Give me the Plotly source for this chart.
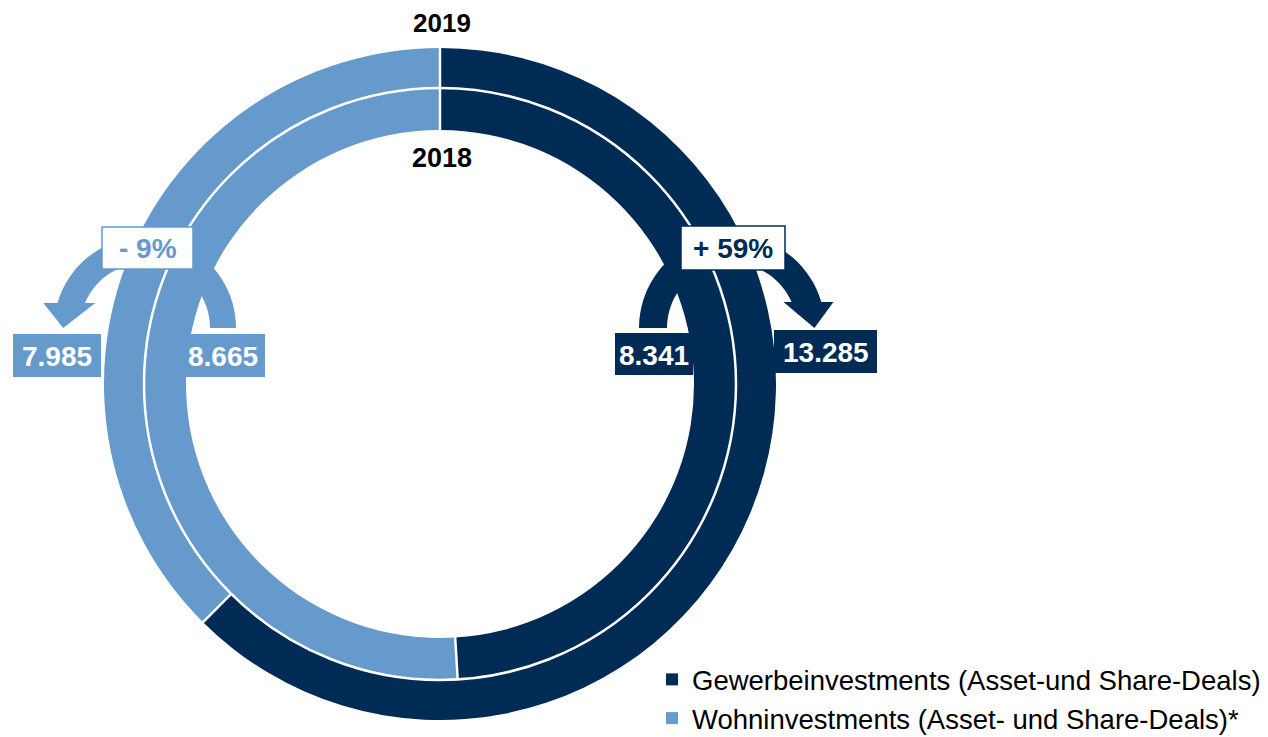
import math
import plotly.graph_objects as go

# ---------------- data ----------------
categories = ["Gewerbeinvestments (Asset-und Share-Deals)",
              "Wohninvestments (Asset- und Share-Deals)*"]
values_2019 = [13285, 7985]
values_2018 = [8341, 8665]
years = ["2019", "2018"]
change_labels = ["+ 59%", "- 9%"]

# ---------------- style ----------------
NAVY = "#002B55"
LIGHT = "#6699CC"
colors = [NAVY, LIGHT]
FONT = "Liberation Sans, Arial, sans-serif"

W, H = 1268, 737
OFF = 8  # default page body margin of the html page
CX, CY = 440, 384
R_OUT, R_MID, R_IN = 336, 296, 254


def px(x):
    return (x - OFF) / W


def py(y):
    return 1 - (y - OFF) / H


def fmt_de(v):
    return f"{v:,}".replace(",", ".")


fig = go.Figure()

fig.add_trace(go.Pie(
    labels=categories, values=values_2019, name=years[0],
    sort=False, direction="clockwise", rotation=0,
    hole=R_MID / R_OUT, textinfo="none", hoverinfo="label+value",
    marker=dict(colors=colors, line=dict(width=0)),
    domain=dict(x=[px(CX - R_OUT), px(CX + R_OUT)],
                y=[py(CY + R_OUT), py(CY - R_OUT)]),
    showlegend=True,
))
fig.add_trace(go.Pie(
    labels=categories, values=values_2018, name=years[1],
    sort=False, direction="clockwise", rotation=0,
    hole=R_IN / R_MID, textinfo="none", hoverinfo="label+value",
    marker=dict(colors=colors, line=dict(width=0)),
    domain=dict(x=[px(CX - R_MID), px(CX + R_MID)],
                y=[py(CY + R_MID), py(CY - R_MID)]),
    showlegend=False,
))

shapes = []


def arrow_path(cx, cy, r_out, r_in, s, base_y, head_half, tip_y, n=40):
    d = cy - base_y
    th_out = math.pi - math.asin(d / r_out)
    th_in = math.pi - math.asin(d / r_in)
    pts = []
    for i in range(n + 1):
        t = th_out * i / n
        pts.append((cx + s * r_out * math.cos(t), cy - r_out * math.sin(t)))
    x_o = cx - s * math.sqrt(r_out ** 2 - d ** 2)
    x_i = cx - s * math.sqrt(r_in ** 2 - d ** 2)
    hc = (x_o + x_i) / 2 - s * 2
    pts.append((hc - s * head_half, base_y))
    pts.append((hc - s * 6, tip_y))
    pts.append((hc + s * head_half, base_y))
    for i in range(n, -1, -1):
        t = th_in * i / n
        pts.append((cx + s * r_in * math.cos(t), cy - r_in * math.sin(t)))
    path = "M" + " L".join(f"{px(x):.5f},{py(y):.5f}" for x, y in pts) + " Z"
    return path


# arrows (left: Wohn, right: Gewerbe)
shapes.append(dict(type="path", xref="paper", yref="paper", layer="above",
                   path=arrow_path(145, 328, 91, 65, 1, 303, 26, 328),
                   fillcolor=LIGHT, line=dict(width=0)))
shapes.append(dict(type="path", xref="paper", yref="paper", layer="above",
                   path=arrow_path(732, 328, 93, 65, -1, 302, 25, 328),
                   fillcolor=NAVY, line=dict(width=0)))

# white separators
shapes.append(dict(type="circle", xref="paper", yref="paper", layer="above",
                   x0=px(CX - R_MID), x1=px(CX + R_MID),
                   y0=py(CY + R_MID), y1=py(CY - R_MID),
                   line=dict(color="white", width=2.5)))


def radial(a_deg, r0, r1):
    a = math.radians(a_deg)
    return dict(type="line", xref="paper", yref="paper", layer="above",
                x0=px(CX + r0 * math.sin(a)), y0=py(CY - r0 * math.cos(a)),
                x1=px(CX + r1 * math.sin(a)), y1=py(CY - r1 * math.cos(a)),
                line=dict(color="white", width=2.5))


a_out = 360 * values_2019[0] / sum(values_2019)
a_in = 360 * values_2018[0] / sum(values_2018)
shapes.append(radial(0, R_IN - 1, R_OUT + 1))
shapes.append(radial(a_out, R_MID, R_OUT + 1))
shapes.append(radial(a_in, R_IN - 1, R_MID))

annotations = []


def box(x0, y0, x1, y1, fill, border=None):
    shapes.append(dict(type="rect", xref="paper", yref="paper", layer="above",
                       x0=px(x0), x1=px(x1), y0=py(y1), y1=py(y0),
                       fillcolor=fill,
                       line=dict(color=border or fill, width=1.5 if border else 0)))


def text(x, y, t, color, size=28, height=None):
    a = dict(xref="paper", yref="paper", x=px(x), y=py(y),
             text=f"<b>{t}</b>", showarrow=False,
             xanchor="center", yanchor="middle",
             font=dict(family=FONT, size=size, color=color))
    if height:
        a["height"] = height
    annotations.append(a)


# value boxes
box(13, 334, 101, 377, LIGHT)
text(57, 357, fmt_de(values_2019[1]), "white")
box(180, 334, 265, 377, LIGHT)
text(222.5, 357, fmt_de(values_2018[1]), "white")
box(615, 333, 693, 375, NAVY)
text(654, 355, fmt_de(values_2018[0]), "white")
box(774, 330, 877, 373, NAVY)
text(825.5, 352, fmt_de(values_2019[0]), "white")

# change boxes
box(102, 227, 193, 269, "white", LIGHT)
text(147.5, 249, change_labels[1], LIGHT)
box(681, 226, 785, 270, "white", NAVY)
text(733, 249, change_labels[0], NAVY)

# year labels
text(442, 23, years[0], "black", 26, height=24)
text(442, 158, years[1], "black", 27, height=24)

fig.update_layout(
    width=W, height=H,
    margin=dict(l=0, r=0, t=0, b=0),
    paper_bgcolor="white", plot_bgcolor="white",
    shapes=shapes, annotations=annotations,
    legend=dict(x=px(652), y=py(655), xanchor="left", yanchor="top",
                font=dict(family=FONT, size=27.5, color="black"),
                bgcolor="rgba(0,0,0,0)", itemclick=False),
)

fig.write_html("out.html", config={"displayModeBar": False})
